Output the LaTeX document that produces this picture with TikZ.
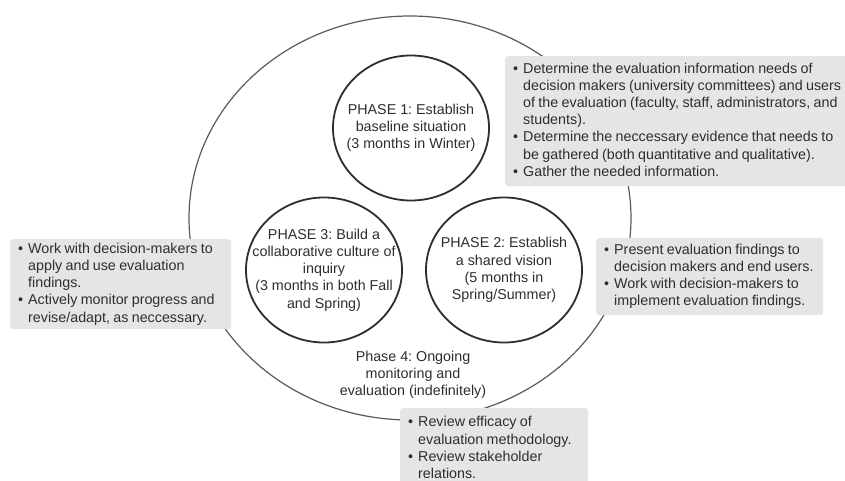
\documentclass[tikz,border=0pt]{standalone}
\usepackage{fontspec}
\setmainfont{Liberation Sans}
\usepackage{array}
\usetikzlibrary{shapes.geometric}
\definecolor{boxfill}{HTML}{E5E5E5}
\definecolor{ink}{HTML}{2E2E2E}
\definecolor{ringline}{HTML}{5A5A5A}
\newcommand{\txtsize}{\fontsize{14.3}{17.2}\selectfont\frenchspacing}
% bulleted lines: first column holds the bullet, second the wrapped text
\newenvironment{bullets}{\txtsize\begin{tabular}{@{}p{10pt}@{}l@{}}}{\end{tabular}}
\tikzset{
  ring/.style={draw=ringline, line width=1.2pt, ellipse, inner sep=0pt,
    minimum width=442pt, minimum height=404pt},
  phasering/.style={draw=ink, line width=1.8pt, ellipse, inner sep=0pt,
    minimum width=156pt, minimum height=145pt},
  plain/.style={align=center, font=\txtsize, text=ink, inner sep=0pt},
  notebox/.style={fill=boxfill, rounded corners=3pt, anchor=north west,
    inner xsep=8pt, inner ysep=0pt, align=left, text=ink}
}
\begin{document}
\begin{tikzpicture}[x=1pt,y=-1pt]
\useasboundingbox (0,0) rectangle (845,481);
\fill[white] (0,0) rectangle (845,481);

% outer cycle
\node[ring] (cycle) at (410,218) {};

% three phases inside the cycle: ring and its caption
\node[phasering] (p1) at (411,128) {};
\node[plain] (p1text) at (p1.center) {PHASE 1: Establish\\baseline situation\\(3 months in Winter)};
\node[phasering] (p3) at (324,270) {};
\node[plain] (p3text) at (p3.center) {PHASE 3: Build a\\collaborative culture of\\inquiry\\(3 months in both Fall\\and Spring)};
\node[phasering] (p2) at (504,270) {};
\node[plain] (p2text) at (p2.center) {PHASE 2: Establish\\a shared vision\\(5 months in\\Spring/Summer)};

\node[plain] (p4) at (413,375) {Phase 4: Ongoing\\monitoring and\\evaluation (indefinitely)};

% notes sitting on the cycle
\node[notebox, minimum width=345pt, minimum height=130pt, text width=329pt] (n1) at (505,56) {%
\begin{bullets}
\textbullet & Determine the evaluation information needs of\\
 & decision makers (university committees) and users\\
 & of the evaluation (faculty, staff, administrators, and\\
 & students).\\
\textbullet & Determine the neccessary evidence that needs to\\
 & be gathered (both quantitative and qualitative).\\
\textbullet & Gather the needed information.
\end{bullets}};

\node[notebox, minimum width=227pt, minimum height=77pt, text width=211pt] (n2) at (596,238) {%
\begin{bullets}
\textbullet & Present evaluation findings to\\
 & decision makers and end users.\\
\textbullet & Work with decision-makers to\\
 & implement evaluation findings.
\end{bullets}};

\node[notebox, minimum width=188pt, minimum height=82pt, text width=172pt] (n4) at (400,408) {%
\begin{bullets}
\textbullet & Review efficacy of\\
 & evaluation methodology.\\
\textbullet & Review stakeholder\\
 & relations.
\end{bullets}};

\node[notebox, minimum width=221pt, minimum height=90pt, text width=205pt] (n3) at (10,239) {%
\begin{bullets}
\textbullet & Work with decision-makers to\\
 & apply and use evaluation\\
 & findings.\\
\textbullet & Actively monitor progress and\\
 & revise/adapt, as neccessary.
\end{bullets}};
\end{tikzpicture}
\end{document}
